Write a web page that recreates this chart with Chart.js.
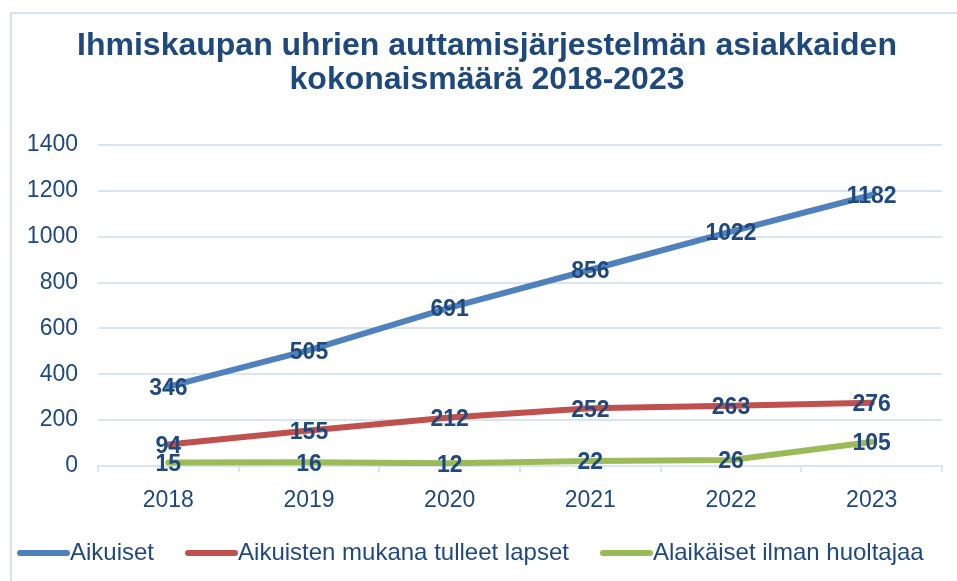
<!DOCTYPE html>
<html><head><meta charset="utf-8">
<script src="https://cdn.jsdelivr.net/npm/chart.js@4.4.1/dist/chart.umd.min.js"></script>
<style>
html,body{margin:0;padding:0;width:957px;height:581px;overflow:hidden;background:#fff;}
#frame{position:absolute;left:10px;top:12px;width:980px;height:620px;border-left:2px solid #D6E3F6;border-top:2px solid #D6E3F6;}
#wrap{position:absolute;left:0;top:0;width:957px;height:581px;}
</style></head><body>
<div id="frame"></div>
<div id="wrap"><canvas id="c" width="957" height="581"></canvas></div>
<script>
const years = ['2018','2019','2020','2021','2022','2023'];
const seriesNames = ['Aikuiset','Aikuisten mukana tulleet lapset','Alaikäiset ilman huoltajaa'];
const aikuiset = [346,505,691,856,1022,1182];
const lapset = [94,155,212,252,263,276];
const alaikaiset = [15,16,12,22,26,105];
const yTicks = [0,200,400,600,800,1000,1200,1400];
const titleLines = ['Ihmiskaupan uhrien auttamisjärjestelmän asiakkaiden','kokonaismäärä 2018-2023'];

const FONT = '"Liberation Sans", Arial, sans-serif';
const TXT = '#1F497D';
const GRID = '#D9E4F4';
const colors = ['#4F81BD','#C0504D','#9BBB59'];

function markerImg(color){
  const c = document.createElement('canvas');
  c.width = 76; c.height = 8;
  const g = c.getContext('2d');
  g.strokeStyle = color; g.lineWidth = 6; g.lineCap = 'round';
  g.beginPath(); g.moveTo(26,4); g.lineTo(73,4); g.stroke();
  return c;
}

const valueLabels = {
  id: 'valueLabels',
  afterDatasetsDraw(chart){
    const ctx = chart.ctx;
    ctx.save();
    ctx.font = 'bold 23px ' + FONT;
    ctx.fillStyle = TXT;
    ctx.textAlign = 'center';
    ctx.textBaseline = 'middle';
    chart.data.datasets.forEach((ds, i) => {
      const meta = chart.getDatasetMeta(i);
      meta.data.forEach((pt, j) => {
        ctx.fillText(String(ds.data[j]), pt.x, pt.y + 2);
      });
    });
    ctx.restore();
  }
};

const seriesData = [aikuiset, lapset, alaikaiset];
const datasets = seriesNames.map((name, i) => ({
  label: name,
  data: seriesData[i],
  borderColor: colors[i],
  backgroundColor: colors[i],
  borderWidth: 6,
  borderCapStyle: 'round',
  borderJoinStyle: 'round',
  pointRadius: 0,
  pointHoverRadius: 0,
  pointStyle: markerImg(colors[i]),
  tension: 0,
  fill: false
}));

new Chart(document.getElementById('c'), {
  type: 'line',
  data: { labels: years, datasets },
  plugins: [valueLabels],
  options: {
    responsive: false,
    animation: false,
    devicePixelRatio: 1,
    layout: { padding: { left: -14, right: -31, top: 0, bottom: 6 } },
    plugins: {
      tooltip: { enabled: false },
      title: {
        display: true,
        text: titleLines,
        color: TXT,
        font: { family: FONT, size: 32, weight: 'bold', lineHeight: '34px' },
        padding: { top: 29, bottom: 48 }
      },
      legend: {
        position: 'bottom',
        align: 'start',
        labels: {
          usePointStyle: true,
          pointStyleWidth: 52,
          padding: 20,
          color: TXT,
          font: { family: FONT, size: 24 }
        }
      }
    },
    scales: {
      x: {
        offset: true,
        grid: { display: true, offset: true, drawOnChartArea: false, drawTicks: true, tickLength: 6, color: GRID, lineWidth: 2 },
        border: { display: true, color: GRID, width: 2 },
        ticks: { color: TXT, font: { family: FONT, size: 23 }, padding: 15 },
        afterFit: s => { s.height = 55; }
      },
      y: {
        min: 0, max: 1400,
        afterBuildTicks: s => { s.ticks = yTicks.map(v => ({ value: v })); },
        grid: { color: GRID, lineWidth: 2, drawTicks: false },
        border: { display: false },
        ticks: { color: TXT, font: { family: FONT, size: 23 }, padding: 20, callback: v => String(v) },
        afterFit: s => { s.width = 112; }
      },
      y2: {
        position: 'right',
        display: true,
        grid: { display: false },
        border: { display: false },
        ticks: { display: false },
        afterFit: s => { s.width = 46; }
      }
    }
  }
});
</script>
</body></html>
